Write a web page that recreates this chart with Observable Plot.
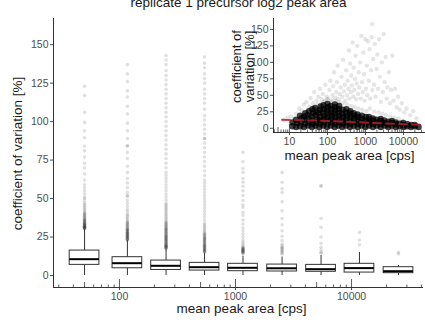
<!DOCTYPE html>
<html><head><meta charset="utf-8">
<script src="https://cdn.jsdelivr.net/npm/d3@7"></script>
<script src="https://cdn.jsdelivr.net/npm/@observablehq/plot@0.6"></script>
<style>
html,body{margin:0;padding:0;background:#fff;}
#wrap{position:relative;width:425px;height:323px;overflow:hidden;font-family:"Liberation Sans",Arial,sans-serif;}
#wrap svg{position:absolute;}
.rot{position:absolute;transform:rotate(-90deg);transform-origin:50% 50%;text-align:center;white-space:nowrap;color:#1a1a1a;}
</style></head><body><div id="wrap"></div>
<script>
// ---------- text ----------
const title = "replicate 1 precursor log2 peak area";
const xTitle = "mean peak area [cps]";
const yTitle = "coefficient of variation [%]";
const insetYTitle = ["coefficient of", "variation [%]"];

// ---------- tick values ----------
const xMajorTicks = [100, 1000, 10000];
const xMidTicks = [50, 500, 5000];
const xMinorTicks = [30, 40, 60, 70, 80, 90, 200, 300, 400, 600, 700, 800, 900, 2000, 3000, 4000, 6000, 7000, 8000, 9000, 20000, 30000, 40000];
const yTicks = [0, 25, 50, 75, 100, 125, 150];
const insetXMajorTicks = [10, 100, 1000, 10000];
const insetXMidTicks = [5, 50, 500, 5000];
const insetXMinorTicks = [4, 6, 7, 8, 9, 20, 30, 40, 60, 70, 80, 90, 200, 300, 400, 600, 700, 800, 900, 2000, 3000, 4000, 6000, 7000, 8000, 9000, 20000, 30000];

// ---------- boxplot statistics (binned mean peak area) ----------
const binCenters = [50, 117, 252, 541, 1160, 2520, 5460, 11700, 25400];
const q1 = [6.9, 4.7, 3.6, 3.2, 2.8, 2.6, 2.4, 1.9, 1.5];
const median = [10.6, 8.0, 6.3, 5.4, 5.0, 4.7, 4.1, 4.8, 2.8];
const q3 = [16.2, 11.9, 9.7, 8.2, 7.6, 7.1, 6.9, 7.6, 5.4];
const whiskerLow = [0, 0, 0, 0, 0, 0, 0, 0, 0];
const whiskerHigh = [29.9, 22.7, 17.3, 14.5, 12.5, 12, 13, 15, 6.5];
const outliers = [
  "123 117 106 99.5 94 89.5 84 81 77 73 70 66 62 59 57 55 53 51 50 48.5 47 46 45 44 43 42 41 40.5 40 39.5 39 38.5 38 37.5 37 36.5 36 35.5 35 34.5 34 33.5 33 32.5 32 31.8 31.5 31.2 31 30.8 30.5 30.3 36 35 34 33 32 31 30.5 33.5 32.5",
  "137 131 126 120 116 110 105 99 94 89 84.5 84 80 76 71 67 63 60 57 54 52 51.5 49 47 45 43 41.5 40 39 38 37 36 35 34.5 34 33.5 33 32.5 32 31.5 31 30.5 30 29.5 29 28.5 28 27.5 27 26.5 26 25.5 25 24.5 24 23.5 23 30 29 28 27 26 25 24 23.5 23 27.5 25.5",
  "143 140 137 133 130 127 124 121 118 115 112 109 106 103 100 97 94 91 88 85 82 79 76 73 70 67 65 63 61 59 57 55 53 51 49 47 46 45 44 43 42 41 40 39 38 37 36 35 34.5 34 33.5 33 32.5 32 31.5 31 30.5 30 29.5 29 28.5 28 27.5 27 26.5 26 25.5 25 24.5 24 23.5 23 22.5 22 21.5 21 20.5 20 19.5 19 18.5 18 17.5 30 28 26 25 24 23 22 21 20 19.5 19 18.5 18 17.8",
  "142 138 135 131 128 125 121 118 115 112 108 104 101 98 95 92 89 89 86 83 80 77 74 71 68 65 62 60 58 56 54 52 50 48 46 44 42 40 38 36 34 33 32 31 30 29 28 27.5 27 26.5 26 25.5 25 24.5 24 23.5 23 22.5 22 21.5 21 20.5 20 19.5 19 18.5 18 17.5 17 16.5 16 15.5 15 24 22 20 19 18 17 16 15.5",
  "80 74 69.5 67 63 60.6 58 55 52 48.7 46 44.3 41 39 36 33.5 31 29 27 25 23 21.6 20.5 19.5 18.4 18 17.5 17 16.5 16 15.5 15 14.5 14 18 17 16.5 16 15.5 15",
  "67 60.6 56.5 54 48 42 37 33 29 25.5 22.7 20.5 19.5 18.4 17.5 16.5 15.5 14.5 14 18 16",
  "58.4 58 37 31.4 25 21 18.4 16.5 15 14.5",
  "28 23 20",
  "14 15"
];

// ---------- inset scatter ----------
const insetDense = [
[12,3],[12,9],[15,2],[16,8],[15,13],[19,3],[20,9],[21,15],[19,19],
[24,2],[26,7],[25,13],[24,18],[26,23],[31,4],[33,9],[32,15],[30,20],[33,26],
[39,2],[41,7],[40,12],[38,18],[42,23],[40,29],[48,4],[50,9],[52,14],[49,20],[51,25],[47,31],
[61,2],[64,7],[62,12],[65,17],[60,23],[63,28],[66,33],[77,4],[80,9],[78,14],[82,19],[76,24],[81,29],[79,35],
[97,2],[101,7],[104,12],[99,17],[103,22],[98,27],[102,32],[100,37],
[122,4],[128,9],[125,14],[130,19],[124,24],[127,29],[121,34],
[155,2],[160,7],[158,12],[162,17],[154,22],[159,27],[161,32],[157,36],
[195,4],[202,9],[198,14],[205,19],[196,24],[200,29],[203,34],
[246,2],[255,7],[250,12],[258,17],[248,22],[252,28],[310,4],[318,9],[314,14],[322,19],[308,24],[316,29],
[392,2],[402,7],[398,12],[405,17],[395,22],[400,26],[495,4],[505,9],[500,14],[510,19],[492,23],
[625,2],[640,7],[630,12],[645,17],[620,21],[785,4],[800,9],[790,14],[805,19],
[990,2],[1010,7],[1000,12],[1020,17],[1240,4],[1270,9],[1255,13],[1230,17],
[1570,2],[1600,7],[1590,12],[1560,15],[1980,4],[2010,9],[1970,13],
[2500,2],[2540,7],[2480,11],[2520,14],[3150,4],[3180,8],[3120,12],
[3970,2],[4010,6],[3950,10],[5000,4],[5050,8],[4960,11],[6300,2],[6350,6],[6250,9],
[7900,3],[8000,7],[10000,2],[10100,5],[9900,8],[12500,3],[12700,6],[15800,2],[16000,5],[20000,3],[19800,5],[25000,2]
];
const insetSparse = [
[15,22],[18,30],[21,27],[24,36],[28,40],[33,33],[36,46],[42,38],[45,55],[52,42],[58,48],[64,60],[70,44],[75,52],
[82,40],[88,66],[95,48],[105,45],[112,58],[118,72],[125,42],[135,50],[142,64],[150,85],[160,46],[170,55],[178,70],
[185,95],[195,44],[210,52],[222,62],[235,78],[245,48],[258,104],[270,56],[285,66],[295,42],[310,88],[325,50],
[340,72],[355,60],[368,118],[380,45],[395,98],[410,55],[425,80],[440,65],[460,130],[475,48],[490,92],[510,58],
[530,75],[550,110],[570,44],[590,68],[610,125],[640,52],[660,85],[690,62],[720,100],[750,45],[780,140],[810,70],
[850,55],[880,115],[910,82],[950,42],[990,135],[1030,60],[1080,95],[1120,50],[1170,132],[1230,72],[1280,120],
[1340,45],[1400,88],[1460,138],[1520,58],[1500,158],[1600,105],[1680,66],[1760,128],[1850,48],[1950,90],[2050,112],
[2150,60],[2300,135],[2400,78],[2550,40],[2700,100],[2850,55],[3000,143],[3200,70],[3400,108],[3600,45],[3800,62],
[4100,85],[4400,38],[4700,58],[5100,110],[5500,42],[6000,60],[6600,32],[7200,48],[8000,28],[9000,38],[10500,24],
[12000,30],[15000,20],[18000,26],[22000,15],[11,18],[13,14],[9,16],[7,12],
[30,28],[40,30],[55,36],[68,38],[85,42],[100,44],[130,40],[165,42],[205,40],[260,38],[330,36],[420,34],[520,32],
[650,30],[820,28],[1050,26],[1300,30],[1700,25],[2200,24],[2800,22],[3500,20],[4500,18],[5800,16],[7500,15],[9500,12]
];
const trendX = [6.4, 100, 1000, 30000];
const trendY = [13, 11.2, 8.6, 5.3];

// ---------- build ----------
const font = "Liberation Sans, Arial, sans-serif";
const boxHalf = Math.pow(10, 0.128);
const boxes = binCenters.map((c, i) => ({c, x1: c / boxHalf, x2: c * boxHalf, q1: q1[i], med: median[i], q3: q3[i], lo: whiskerLow[i], hi: whiskerHigh[i]}));
const outlierPts = outliers.flatMap((s, i) => s.trim().split(/\s+/).map(v => ({c: binCenters[i], v: +v})));

function logTicks(minor, mid, major, yMin, unitsPerPx) {
  return [
    Plot.ruleX(minor, {x: d => d, y1: yMin, y2: yMin + 2.5 * unitsPerPx, stroke: "#333", strokeWidth: 0.8}),
    Plot.ruleX(mid, {x: d => d, y1: yMin, y2: yMin + 5 * unitsPerPx, stroke: "#333", strokeWidth: 0.8}),
    Plot.ruleX(major, {x: d => d, y1: yMin, y2: yMin + 8 * unitsPerPx, stroke: "#333", strokeWidth: 0.8})
  ];
}

// main
const mW = 425, mH = 323, mL = 53, mR = 2, mT = 18, mB = 36;
const mY = [-7.8, 167];
const mUnits = (mY[1] - mY[0]) / (mH - mT - mB);
const main = Plot.plot({
  width: mW, height: mH, marginLeft: mL, marginRight: mR, marginTop: mT, marginBottom: mB,
  style: {fontFamily: font, fontSize: "10.5px", color: "#4d4d4d", background: "transparent", overflow: "visible"},
  x: {type: "log", domain: [27, 41700], ticks: xMajorTicks, tickFormat: d => String(d), tickSize: 3, tickPadding: 2, label: null},
  y: {domain: mY, ticks: yTicks, tickSize: 3, tickPadding: 2, label: null},
  marks: [
    Plot.dot(outlierPts, {x: "c", y: "v", r: 1.8, fill: "black", fillOpacity: 0.12, stroke: "none"}),
    Plot.ruleX(boxes, {x: "c", y1: "lo", y2: "q1", stroke: "#333"}),
    Plot.ruleX(boxes, {x: "c", y1: "q3", y2: "hi", stroke: "#333"}),
    Plot.rect(boxes, {x1: "x1", x2: "x2", y1: "q1", y2: "q3", fill: "white", stroke: "#333", strokeWidth: 1}),
    Plot.ruleY(boxes, {x1: "x1", x2: "x2", y: "med", stroke: "black", strokeWidth: 2}),
    Plot.ruleY([mY[0]], {stroke: "#333"}),
    Plot.ruleX([27], {stroke: "#333"}),
    ...logTicks(xMinorTicks, xMidTicks, xMajorTicks, mY[0], mUnits),
    Plot.text([title], {text: d => d, frameAnchor: "top", dy: -12, lineAnchor: "bottom", fontSize: 13.5, fill: "#1a1a1a"}),
    Plot.text([xTitle], {text: d => d, frameAnchor: "bottom", dx: 3, dy: 25, lineAnchor: "bottom", fontSize: 13.5, fill: "#1a1a1a"})
  ]
});
main.style.left = "0px"; main.style.top = "0px";

// inset
const iLeft = 215;
const iW = 210, iH = 165, iL = 58, iR = 0, iT = 18, iB = 33;
const iY = [-6.4, 166.5];
const iUnits = (iY[1] - iY[0]) / (iH - iT - iB);
const inset = Plot.plot({
  width: iW, height: iH, marginLeft: iL, marginRight: iR, marginTop: iT, marginBottom: iB,
  style: {fontFamily: font, fontSize: "10.5px", color: "#4d4d4d", background: "transparent", overflow: "visible"},
  x: {type: "log", domain: [3.8, 38000], ticks: insetXMajorTicks, tickFormat: d => String(d), tickSize: 3, tickPadding: 2, label: null},
  y: {domain: iY, ticks: yTicks, tickSize: 3, tickPadding: 2, label: null},
  marks: [
    Plot.dot(insetSparse, {x: "0", y: "1", r: 2.2, fill: "black", fillOpacity: 0.1, stroke: "none"}),
    Plot.dot(insetDense, {x: "0", y: "1", r: 3.2, fill: "black", fillOpacity: 0.75, stroke: "none"}),
    Plot.line(trendX.map((x, i) => [x, trendY[i]]), {x: "0", y: "1", stroke: "#b3202a", strokeWidth: 2, strokeDasharray: "8,5", strokeOpacity: 0.85}),
    Plot.ruleY([iY[0]], {stroke: "#333"}),
    Plot.ruleX([3.8], {stroke: "#333"}),
    ...logTicks(insetXMinorTicks, insetXMidTicks, insetXMajorTicks, iY[0], iUnits),
    Plot.text([xTitle], {text: d => d, frameAnchor: "bottom", dy: 27, lineAnchor: "bottom", fontSize: 13.5, fill: "#1a1a1a"})
  ]
});
inset.style.left = iLeft + "px"; inset.style.top = "0px";

const wrap = document.getElementById("wrap");
wrap.appendChild(main);
wrap.appendChild(inset);

// rotated axis titles (HTML text, centred on given points)
function rotLabel(lines, cx, cy, size, lh) {
  const d = document.createElement("div");
  d.className = "rot";
  d.style.fontSize = size + "px";
  d.style.lineHeight = lh + "px";
  lines.forEach((t, i) => { if (i) d.appendChild(document.createElement("br")); d.appendChild(document.createTextNode(t)); });
  wrap.appendChild(d);
  const w = d.offsetWidth, h = d.offsetHeight;
  d.style.left = (cx - w / 2) + "px";
  d.style.top = (cy - h / 2) + "px";
}
rotLabel([yTitle], 18, 153, 13.5, 15);
rotLabel(insetYTitle, 243, 66, 13, 12.5);
</script></body></html>
